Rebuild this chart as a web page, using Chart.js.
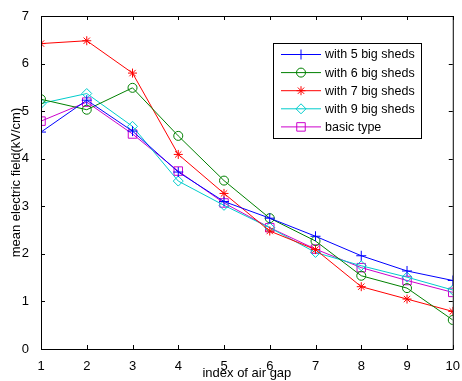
<!DOCTYPE html>
<html>
<head>
<meta charset="utf-8">
<script src="https://cdn.jsdelivr.net/npm/chart.js@4"></script>
<style>
  html, body { margin: 0; padding: 0; background: #fff; }
  #chart { display: block; }
</style>
</head>
<body>
<canvas id="chart" width="462" height="381"></canvas>
<script>
// index of air gap
const gaps = [1, 2, 3, 4, 5, 6, 7, 8, 9, 10];

// mean electric field (kV/cm)
const sheds5 = [4.56, 5.23, 4.58, 3.72, 3.10, 2.75, 2.37, 1.96, 1.64, 1.44];
const sheds6 = [5.25, 5.03, 5.49, 4.48, 3.54, 2.75, 2.27, 1.54, 1.28, 0.61];
const sheds7 = [6.42, 6.48, 5.80, 4.09, 3.27, 2.48, 2.09, 1.31, 1.05, 0.79];
const sheds9 = [5.16, 5.37, 4.68, 3.53, 3.02, 2.55, 2.03, 1.75, 1.51, 1.24];
const basicType = [4.79, 5.19, 4.52, 3.74, 3.07, 2.55, 2.10, 1.71, 1.44, 1.19];

const seriesNames = ["with 5 big sheds", "with 6 big sheds", "with 7 big sheds", "with 9 big sheds", "basic type"];
const xTicks = [1, 2, 3, 4, 5, 6, 7, 8, 9, 10];
const yTicks = [0, 1, 2, 3, 4, 5, 6, 7];

const FONT = "'Liberation Sans', Arial, sans-serif";

function makeSet(name, values, color, style, radius) {
    return {
        label: name,
        data: values.map((v, i) => ({ x: gaps[i], y: v })),
        borderColor: color,
        backgroundColor: "rgba(0,0,0,0)",
        borderWidth: 1,
        pointStyle: style,
        pointRadius: radius,
        pointBorderColor: color,
        pointBackgroundColor: "rgba(0,0,0,0)",
        pointBorderWidth: 1,
        tension: 0
    };
}

const datasets = [
    makeSet(seriesNames[0], sheds5, "#0000ff", "cross", 5),
    makeSet(seriesNames[1], sheds6, "#008000", "circle", 4.5),
    makeSet(seriesNames[2], sheds7, "#ff0000", "star", 4.5),
    makeSet(seriesNames[3], sheds9, "#00cccc", "rectRot", 5),
    makeSet(seriesNames[4], basicType, "#cc00cc", "rect", 6)
];

// box around the plot, ticks pointing inwards on all four sides, and the legend
const framePlugin = {
    id: "frame",
    afterDraw(chart) {
        const ctx = chart.ctx;
        const a = chart.chartArea;
        const xs = chart.scales.x, ys = chart.scales.y;
        ctx.save();
        ctx.strokeStyle = "#000";
        ctx.lineWidth = 1;
        ctx.strokeRect(a.left + 0.5, a.top + 0.5, a.right - a.left, a.bottom - a.top);
        ctx.beginPath();
        xTicks.forEach(t => {
            const px = Math.round(xs.getPixelForValue(t)) + 0.5;
            ctx.moveTo(px, a.bottom); ctx.lineTo(px, a.bottom - 4);
            ctx.moveTo(px, a.top); ctx.lineTo(px, a.top + 4);
        });
        yTicks.forEach(t => {
            const py = Math.round(ys.getPixelForValue(t)) + 0.5;
            ctx.moveTo(a.left, py); ctx.lineTo(a.left + 4, py);
            ctx.moveTo(a.right, py); ctx.lineTo(a.right - 4, py);
        });
        ctx.stroke();

        // legend
        const lx = 273, ly = 43, lw = 148, lh = 95;
        ctx.fillStyle = "#fff";
        ctx.fillRect(lx, ly, lw, lh);
        ctx.strokeRect(lx + 0.5, ly + 0.5, lw, lh);
        ctx.font = "12.5px " + FONT;
        ctx.textBaseline = "middle";
        chart.data.datasets.forEach((ds, i) => {
            const y = ly + 11 + i * 18.1;
            ctx.strokeStyle = ds.borderColor;
            ctx.fillStyle = "rgba(0,0,0,0)";
            ctx.beginPath();
            ctx.moveTo(lx + 8, y + 0.5);
            ctx.lineTo(lx + 48, y + 0.5);
            ctx.stroke();
            Chart.helpers.drawPoint(ctx, { pointStyle: ds.pointStyle, radius: ds.pointRadius, borderWidth: 1 }, lx + 28, y + 0.5);
            ctx.fillStyle = "#000";
            ctx.fillText(ds.label, lx + 52, y + 1);
        });
        ctx.restore();
    }
};

new Chart(document.getElementById("chart"), {
    type: "line",
    data: { datasets: datasets },
    plugins: [framePlugin],
    options: {
        responsive: false,
        animation: false,
        layout: { padding: { top: 16, right: 6, left: 0, bottom: 0 } },
        plugins: { legend: { display: false }, tooltip: { enabled: false } },
        scales: {
            x: {
                type: "linear",
                min: 1,
                max: 10,
                grid: { display: false },
                border: { display: false },
                afterFit: s => { s.height = 32; },
                afterBuildTicks: s => { s.ticks = xTicks.map(v => ({ value: v })); },
                ticks: { color: "#000", padding: 2, maxRotation: 0, font: { family: FONT, size: 13 } },
                title: { display: true, text: "index of air gap", color: "#000", padding: { top: 3, bottom: 0 }, font: { family: FONT, size: 13 } }
            },
            y: {
                min: 0,
                max: 7,
                grid: { display: false },
                border: { display: false },
                afterFit: s => { s.width = 41; },
                afterBuildTicks: s => { s.ticks = yTicks.map(v => ({ value: v })); },
                ticks: { color: "#000", padding: 4, font: { family: FONT, size: 13 } },
                title: { display: true, text: "mean electric field(kV/cm)", color: "#000", padding: { top: 9, bottom: 0 }, font: { family: FONT, size: 13 } }
            }
        }
    }
});
</script>
</body>
</html>
